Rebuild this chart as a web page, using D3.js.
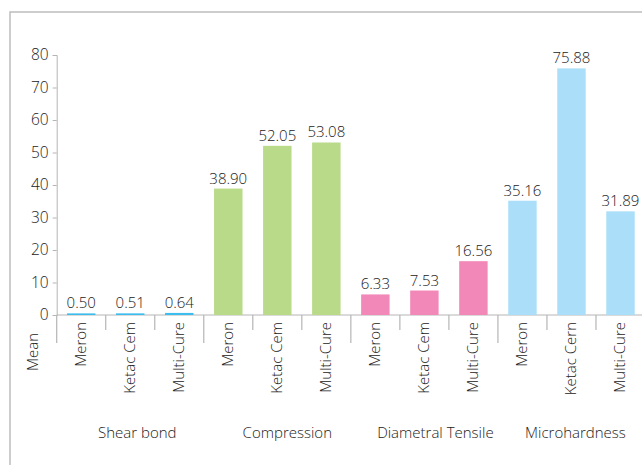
<!DOCTYPE html>
<html><head><meta charset="utf-8">
<script src="https://cdn.jsdelivr.net/npm/d3@7"></script>
<style>body{margin:0;background:#fff}svg{display:block}text{font-family:"Open Sans",sans-serif;font-weight:300;fill:#222}</style>
</head><body><svg width="642" height="465"></svg>
<script>
const groups = ["Shear bond", "Compression", "Diametral Tensile", "Microhardness"];
const materials = [
  ["Meron", "Ketac Cem", "Multi-Cure"],
  ["Meron", "Ketac Cem", "Multi-Cure"],
  ["Meron", "Ketac Cem", "Multi-Cure"],
  ["Meron", "Ketac Cern", "Multi-Cure"]
];
const values = [
  [0.50, 0.51, 0.64],
  [38.90, 52.05, 53.08],
  [6.33, 7.53, 16.56],
  [35.16, 75.88, 31.89]
];
const colors = ["#3dbdee", "#b9da88", "#f288b8", "#abdff9"];
const yTicks = [0, 10, 20, 30, 40, 50, 60, 70, 80];

const rows = [];
groups.forEach((g, gi) => materials[gi].forEach((m, mi) =>
  rows.push({key: gi + "-" + mi, g, gi, m, v: values[gi][mi]})));

const svg = d3.select("svg");
svg.append("rect").attr("x", 10).attr("y", 12).attr("width", 700).attr("height", 500)
  .attr("fill", "none").attr("stroke", "#bdbdbd").attr("stroke-width", 1.5);

const x0 = 56.7, x1 = 645, yTop = 55, yBot = 315;
const x = d3.scaleBand().domain(rows.map(r => r.key)).range([x0, x1]).paddingInner(0.42).paddingOuter(0.21);
const y = d3.scaleLinear().domain([0, 80]).range([yBot, yTop]);
const axisCol = "#b5b5b5";

// y axis
const ya = svg.append("g").attr("transform", `translate(${x0},0)`)
  .call(d3.axisLeft(y).tickValues(yTicks).tickSize(4).tickPadding(4));
ya.select(".domain").attr("stroke", axisCol);
ya.selectAll(".tick line").attr("stroke", axisCol);
ya.selectAll("text").style("font-size", "15.5px").attr("fill", "#222")
  .style("font-family", '"Open Sans",sans-serif').style("font-weight", 300);

// x axis line
svg.append("line").attr("x1", x0).attr("x2", x1).attr("y1", yBot).attr("y2", yBot).attr("stroke", axisCol);

// bars
svg.selectAll(".bar").data(rows).join("rect")
  .attr("x", d => x(d.key)).attr("width", x.bandwidth())
  .attr("y", d => y(d.v)).attr("height", d => yBot - y(d.v))
  .attr("fill", d => colors[d.gi]);

// value labels
svg.selectAll(".val").data(rows).join("text")
  .attr("x", d => x(d.key) + x.bandwidth() / 2).attr("y", d => y(d.v) - 5)
  .attr("text-anchor", "middle").style("font-size", "15px")
  .text(d => d.v.toFixed(2));

// band separators
const step = x.step();
rows.forEach((r, i) => {
  const bx = x0 + i * step;
  const long = i % 3 === 0;
  svg.append("line").attr("x1", bx).attr("x2", bx).attr("y1", yBot).attr("y2", long ? 343 : 330)
    .attr("stroke", axisCol).attr("stroke-width", 1.2);
});

// category labels
svg.selectAll(".cat").data(rows).join("text")
  .attr("transform", d => `translate(${x(d.key) + x.bandwidth() / 2 + 5},322) rotate(-90)`)
  .attr("text-anchor", "end").style("font-size", "15px")
  .text(d => d.m);

// group labels
const grpShift = [7, 10, 11, 4];
svg.selectAll(".grp").data(groups).join("text")
  .attr("x", (d, i) => x0 + (i * 3 + 1.5) * step + grpShift[i]).attr("y", 438)
  .attr("text-anchor", "middle").style("font-size", "15px")
  .text(d => d);

// y title
svg.append("text").attr("transform", "translate(38,352) rotate(-90)")
  .attr("text-anchor", "middle").style("font-size", "15px").text("Mean");
</script></body></html>
